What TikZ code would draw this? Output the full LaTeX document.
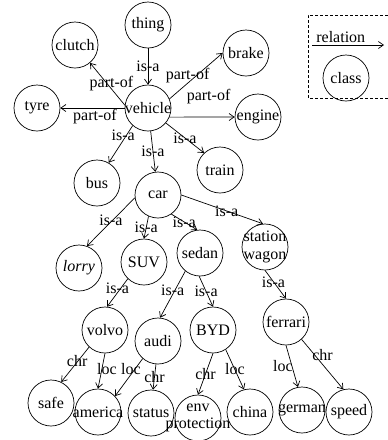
\documentclass[tikz,border=0pt]{standalone}
\usepackage{fontspec}
\setmainfont{Liberation Serif}
\usetikzlibrary{arrows.meta}

\begin{document}
\begin{tikzpicture}[x=1pt,y=-1pt,
  font=\fontsize{16}{17.5}\selectfont,
  class node/.style={draw,circle,minimum size=46pt,inner sep=-10pt,align=center,line width=0.7pt},
  rel label/.style={inner sep=1pt},
  >={Straight Barb[length=5pt,width=7pt]}]
  \useasboundingbox (0,0) rectangle (388,440);

  % classes
  \node[class node] (thing) at (148,25) {thing};
  \node[class node] (clutch) at (75,45) {clutch};
  \node[class node] (brake) at (246,53) {brake};
  \node[class node] (tyre) at (37,108) {tyre};
  \node[class node] (vehicle) at (148,108) {vehicle};
  \node[class node] (engine) at (258,117) {engine};
  \node[class node] (bus) at (97,183) {bus};
  \node[class node] (train) at (220,170) {train};
  \node[class node] (car) at (158,195) {car};
  \node[class node] (lorry) at (79,268) {\textit{lorry}};
  \node[class node] (suv) at (144,262) {SUV};
  \node[class node] (sedan) at (200,253) {sedan};
  \node[class node] (wagon) at (265,247) {station\\wagon};
  \node[class node] (volvo) at (105,330) {volvo};
  \node[class node] (audi) at (158,341) {audi};
  \node[class node] (byd) at (213,330) {BYD};
  \node[class node] (ferrari) at (286,322) {ferrari};
  \node[class node] (safe) at (51,403) {safe};
  \node[class node] (america) at (98,412) {america};
  \node[class node] (status) at (151,413) {status};
  \node[class node] (env) at (198,418) {env\\protection};
  \node[class node] (china) at (250,412) {china};
  \node[class node] (german) at (302,410) {german};
  \node[class node] (speed) at (349,412) {speed};

  % relations
  \path[->,line width=0.7pt]
    (thing) edge node[rel label] {is-a} (vehicle)
    (vehicle.173) edge node[rel label,xshift=4pt] {part-of} (clutch.-50)
    (vehicle.23) edge node[rel label,xshift=-8.5pt] {part-of} (brake.west)
    (vehicle.west) edge node[rel label,xshift=2.5pt,yshift=-9pt] {part-of} (tyre.east)
    (vehicle.-23) edge node[rel label,xshift=6.5pt,yshift=20pt] {part-of} (engine.west)
    (vehicle.229) edge node[rel label,xshift=2.5pt,yshift=9pt] {is-a} (bus.60)
    (vehicle) edge node[rel label] {is-a} (car)
    (vehicle.-40) edge node[rel label] {is-a} (train.133)
    (car.187) edge node[rel label,yshift=2pt] {is-a} (lorry.70)
    (car.246) edge node[rel label] {is-a} (suv.north)
    (car.-55) edge node[rel label] {is-a} (sedan.97)
    (car.east) edge node[rel label,xshift=4.5pt,yshift=-2pt] {is-a} (wagon.95)
    (suv.226) edge node[rel label,yshift=4.5pt] {is-a} (volvo.85)
    (sedan.231) edge node[rel label,yshift=4.5pt] {is-a} (audi.85)
    (sedan.-92) edge node[rel label] {is-a} (byd.north)
    (wagon.south) edge node[rel label,xshift=-2pt,yshift=2pt] {is-a} (ferrari.north)
    (volvo.227) edge node[rel label,xshift=2pt,yshift=4pt] {chr} (safe.64)
    (volvo.south) edge node[rel label,xshift=5.5pt,yshift=2pt] {loc} (america.north)
    (audi.229) edge node[rel label,xshift=2pt,yshift=8pt] {loc} (america.43)
    (audi.-95) edge node[rel label] {chr} (status.85)
    (byd.south) edge node[rel label] {chr} (env.north)
    (byd.-57) edge node[rel label] {loc} (china.105)
    (ferrari.south) edge node[rel label,xshift=-9pt] {loc} (german.100)
    (ferrari.-48) edge node[rel label,yshift=9pt] {chr} (speed.104);

  % legend
  \draw[line width=0.7pt,dash pattern=on 3pt off 2pt] (388,15) -- (308,15) -- (308,98) -- (388,98);
  \coordinate (rel start) at (312,45);
  \coordinate (rel end) at (384,45);
  \draw[->,line width=0.7pt] (rel start) -- node[rel label,above,pos=0.4,yshift=1pt] {relation} (rel end);
  \node[class node] (class) at (346,78) {class};
\end{tikzpicture}
\end{document}
